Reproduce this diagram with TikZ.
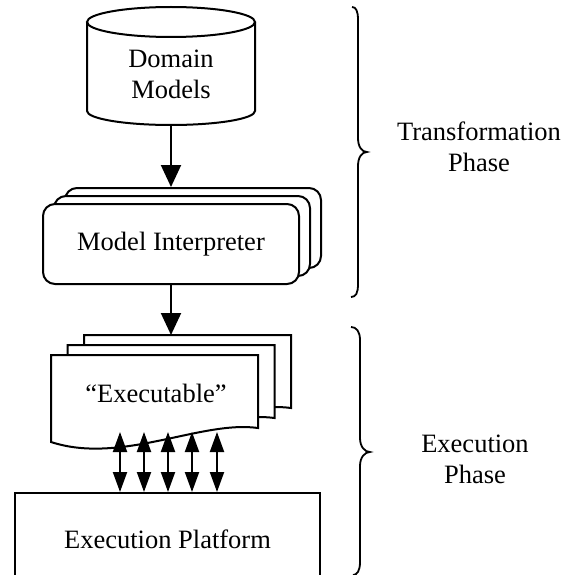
\documentclass[tikz,border=0pt]{standalone}
\usepackage{fontspec}
\setmainfont{Liberation Serif}
\usetikzlibrary{arrows.meta}
\begin{document}
\begin{tikzpicture}[x=1pt, y=-1pt, line width=2pt,
  every node/.style={font=\fontsize{26.5}{31}\selectfont, inner sep=0pt},
  box/.style={draw, fill=white, rounded corners=12pt, minimum width=256pt, minimum height=80pt},
  flow/.style={-{Triangle[width=20pt,length=22pt]}},
  link/.style={{Triangle[width=14pt,length=20pt]}-{Triangle[width=14pt,length=20pt]}},
  brace/.style={line width=1.8pt},
  docpage/.pic={\draw[fill=white] (0,0) -- (207,0) -- (207,73)
      .. controls (150,65) and (70,110) .. (0,87) -- cycle;}]
\useasboundingbox (0,0) rectangle (571,575);
\clip (0,0) rectangle (571,575);

% domain models (cylinder)
\draw[fill=white] (87,22) -- (87,111)
  .. controls (87,118.7) and (124.6,125) .. (171,125)
  .. controls (217.4,125) and (255,118.7) .. (255,111) -- (255,22);
\draw (171,22) ellipse [x radius=84, y radius=15];
\node[align=center] (dm) at (171,74) {Domain\\Models};
\coordinate (dmb) at (171,125);

% stacked model interpreters
\node[box] (mi3) at (193,228) {};
\node[box] (mi2) at (182,236) {};
\node[box] (mi1) at (171,244) {Model Interpreter};
\draw[flow] (dmb) -- (dmb |- mi3.north);

% stacked executables
\pic at (84,335) {docpage};
\pic at (67.5,345) {docpage};
\pic at (51,355) {docpage};
\node (exe) at (156,393) {“Executable”};
\coordinate (exetop) at (171,335);
\draw[flow] (mi1.south) -- (exetop);

% execution platform
\node[draw, minimum width=305pt, minimum height=92pt] (ep) at (167.5,539) {Execution Platform};

% calls between executable and platform
\foreach \x [count=\i] in {120,144,168,192,217} {
  \coordinate (call\i) at (\x,432);
  \draw[link] (call\i) -- (call\i |- ep.north);
}

% phase braces
\draw[brace] (352,7) .. controls (356,7) and (358,11) .. (358,20) -- (358,138)
  .. controls (358,147) and (362,152) .. (367,152)
  .. controls (362,152) and (358,157) .. (358,166) -- (358,284)
  .. controls (358,293) and (356,297) .. (351,297);
\draw[brace] (351,327) .. controls (356,327) and (360,331) .. (360,340) -- (360,438)
  .. controls (360,447) and (365,452) .. (370,452)
  .. controls (365,452) and (360,457) .. (360,466) -- (360,562)
  .. controls (360,571) and (357,575) .. (353,575);

\node[align=center] (tp) at (479,147) {Transformation\\Phase};
\node[align=center] (xp) at (475,459) {Execution\\Phase};
\end{tikzpicture}
\end{document}
